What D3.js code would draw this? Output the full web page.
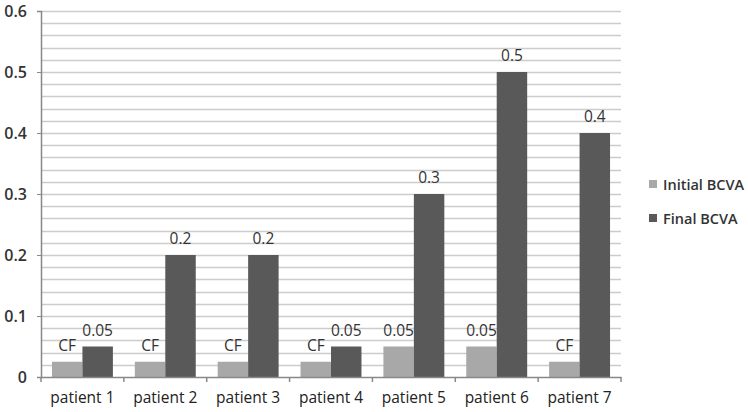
<!DOCTYPE html>
<html><head><meta charset="utf-8">
<script src="https://cdn.jsdelivr.net/npm/d3@7"></script>
<style>body{margin:0;background:#fff}svg{display:block}text{font-family:"Open Sans",Lato,sans-serif}</style>
</head><body>
<svg id="c" width="748" height="412"></svg>
<script>
const categories = ["patient 1","patient 2","patient 3","patient 4","patient 5","patient 6","patient 7"];
const seriesNames = ["Initial BCVA","Final BCVA"];
const initialValues = [0.025,0.025,0.025,0.025,0.05,0.05,0.025];
const initialLabels = ["CF","CF","CF","CF","0.05","0.05","CF"];
const finalValues = [0.05,0.2,0.2,0.05,0.3,0.5,0.4];
const finalLabels = ["0.05","0.2","0.2","0.05","0.3","0.5","0.4"];
const yTicks = [0,0.1,0.2,0.3,0.4,0.5,0.6];
const yTickLabels = ["0","0.1","0.2","0.3","0.4","0.5","0.6"];
const gridValues = d3.range(0,31).map(i=>i*0.02);
const colors = ["#a8a8a8","#595959"];

const svg = d3.select("#c");
const m = {l:41, r:127, t:11, b:35};
const W = 748, H = 412;
const x = d3.scaleBand().domain(categories).range([m.l, W-m.r]).paddingInner(0).paddingOuter(0);
const inner = d3.scaleBand().domain(seriesNames).range([0, x.bandwidth()]).paddingInner(0).paddingOuter(0.36);
const y = d3.scaleLinear().domain([0,0.6]).range([H-m.b, m.t]);

// gridlines
svg.append("g").selectAll("line").data(gridValues.slice(1)).join("line")
  .attr("x1", m.l).attr("x2", W-m.r)
  .attr("y1", d=>Math.round(y(d))+0.5).attr("y2", d=>Math.round(y(d))+0.5)
  .attr("stroke", "#cccccc").attr("stroke-width", 1.3);

// bars
const data = categories.map((c,i)=>({c, vals:[
  {s:seriesNames[0], v:initialValues[i], lab:initialLabels[i]},
  {s:seriesNames[1], v:finalValues[i], lab:finalLabels[i]}]}));
const g = svg.append("g").selectAll("g").data(data).join("g")
  .attr("transform", d=>`translate(${x(d.c)},0)`);
g.selectAll("rect").data(d=>d.vals).join("rect")
  .attr("x", d=>inner(d.s)).attr("width", inner.bandwidth())
  .attr("y", d=>y(d.v)).attr("height", d=>y(0)-y(d.v))
  .attr("fill", (d,i)=>colors[i]);
g.selectAll("text").data(d=>d.vals).join("text")
  .attr("x", d=>inner(d.s)+inner.bandwidth()/2).attr("y", d=>y(d.v)-11)
  .attr("text-anchor","middle").attr("font-size",15.5).attr("fill","#333")
  .text(d=>d.lab);

// y axis
const ya = svg.append("g").attr("transform",`translate(${m.l},0)`)
  .call(d3.axisLeft(y).tickValues(yTicks).tickFormat((d,i)=>yTickLabels[i]).tickSize(4).tickPadding(10));
ya.select(".domain").attr("stroke","#888").attr("stroke-width",1.5);
ya.selectAll(".tick line").attr("stroke","#888");
ya.selectAll("text").attr("font-size",16).attr("font-weight",600).attr("fill","#333").attr("font-family","'Open Sans',sans-serif");

// x axis
const xa = svg.append("g").attr("transform",`translate(0,${H-m.b})`)
  .call(d3.axisBottom(x).tickSize(0).tickPadding(15));
xa.select(".domain").attr("stroke","#888").attr("stroke-width",1.5);
xa.selectAll("text").attr("font-size",15.5).attr("fill","#222").attr("font-family","'Open Sans',sans-serif");
// boundary ticks
svg.append("g").selectAll("line").data(categories.map(c=>x(c)).concat([x(categories[categories.length-1])+x.bandwidth()]))
  .join("line").attr("x1",d=>d).attr("x2",d=>d).attr("y1",y(0)).attr("y2",y(0)+5).attr("stroke","#888").attr("stroke-width",1.5);

// legend
const lg = svg.append("g").selectAll("g").data(seriesNames).join("g")
  .attr("transform",(d,i)=>`translate(649,${186+i*34})`);
lg.append("rect").attr("width",8).attr("height",8).attr("y",-6).attr("fill",(d,i)=>colors[i]);
lg.append("text").attr("x",14).attr("y",4).attr("font-size",14.5).attr("fill","#333").attr("font-weight",600).text(d=>d);
</script>
</body></html>
